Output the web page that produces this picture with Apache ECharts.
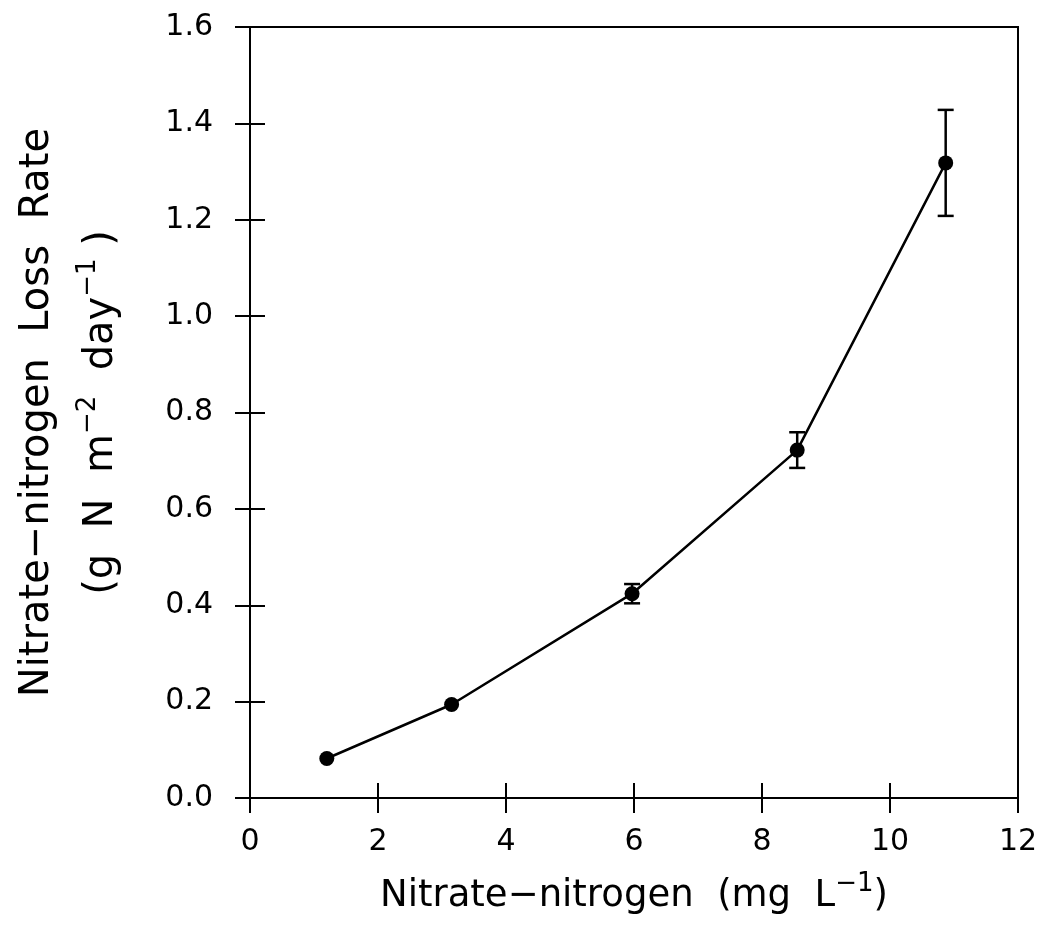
<!DOCTYPE html>
<html>
<head>
<meta charset="utf-8">
<script src="https://cdn.jsdelivr.net/npm/echarts@6/dist/echarts.min.js"></script>
<style>
html,body{margin:0;padding:0;background:#fff;}
#chart{width:1042px;height:926px;}
</style>
</head>
<body>
<div id="chart"></div>
<script>
const xValues = [1.2, 3.15, 5.97, 8.55, 10.87];
const yValues = [0.082, 0.194, 0.424, 0.722, 1.318];
const yErrors = [0, 0, 0.02, 0.037, 0.11];
const xTicks = [0, 2, 4, 6, 8, 10, 12];
const yTicks = [0.0, 0.2, 0.4, 0.6, 0.8, 1.0, 1.2, 1.4, 1.6];

const FONT = 'DejaVu Sans';
const chart = echarts.init(document.getElementById('chart'));

const points = xValues.map((x, i) => [x, yValues[i]]);
const errData = xValues.map((x, i) => [x, yValues[i] - yErrors[i], yValues[i] + yErrors[i]]);

const axisBase = {
  type: 'value',
  splitLine: {show: false},
};

chart.setOption({
  animation: false,
  backgroundColor: '#fff',
  grid: {left: 250, right: 24, top: 27, bottom: 128, containLabel: false, outerBoundsMode: 'none',
    show: true, borderColor: '#000', borderWidth: 2, backgroundColor: 'transparent'},
  xAxis: [
    Object.assign({}, axisBase, {
      min: 0, max: 12, interval: 2, position: 'bottom',
      axisLine: {show: true, onZero: false, lineStyle: {color: '#000', width: 2}},
      axisTick: {show: true, inside: false, length: 15, lineStyle: {color: '#000', width: 2}},
      axisLabel: {show: true, color: '#000', fontFamily: FONT, fontSize: 30, margin: 29,
        formatter: v => xTicks.includes(v) ? String(v) : ''},
      name: 'Nitrate\u2212nitrogen  (mg  L{sup|\u22121})',
      nameLocation: 'middle', nameGap: 73,
      nameTextStyle: {color: '#000', fontFamily: FONT, fontSize: 37,
        rich: {sup: {fontSize: 26, padding: [0, 0, 24, 0], color: '#000', fontFamily: FONT}}}
    }),
    Object.assign({}, axisBase, {
      min: 0, max: 12, interval: 2, position: 'bottom',
      axisLine: {show: false},
      axisTick: {show: true, inside: true, length: 15, lineStyle: {color: '#000', width: 2}},
      axisLabel: {show: false}
    })
  ],
  yAxis: [
    Object.assign({}, axisBase, {
      min: 0, max: 1.6, interval: 0.2, position: 'left',
      axisLine: {show: true, onZero: false, lineStyle: {color: '#000', width: 2}},
      axisTick: {show: true, inside: false, length: 15, lineStyle: {color: '#000', width: 2}},
      axisLabel: {show: true, color: '#000', fontFamily: FONT, fontSize: 30, margin: 37,
        formatter: v => v.toFixed(1)},
      name: 'Nitrate\u2212nitrogen  Loss  Rate\n(g  N  m{sup|\u22122}  day{sup|\u22121} )',
      nameLocation: 'middle', nameRotate: 90, nameGap: 116,
      nameTextStyle: {color: '#000', fontFamily: FONT, fontSize: 40, lineHeight: 64,
        rich: {sup: {fontSize: 26, lineHeight: 64, padding: [0, 0, 28, 0], color: '#000', fontFamily: FONT}}}
    }),
    Object.assign({}, axisBase, {
      min: 0, max: 1.6, interval: 0.2, position: 'left',
      axisLine: {show: false},
      axisTick: {show: true, inside: true, length: 15, lineStyle: {color: '#000', width: 2}},
      axisLabel: {show: false}
    })
  ],
  series: [
    {
      type: 'custom',
      xAxisIndex: 0, yAxisIndex: 0,
      data: errData,
      z: 3,
      renderItem: function (params, api) {
        const x = api.value(0);
        const lo = api.coord([x, api.value(1)]);
        const hi = api.coord([x, api.value(2)]);
        const half = 8;
        const style = {stroke: '#000', lineWidth: 2.5};
        if (Math.abs(hi[1] - lo[1]) < 1) return null;
        return {
          type: 'group',
          children: [
            {type: 'line', shape: {x1: lo[0], y1: lo[1], x2: hi[0], y2: hi[1]}, style: style},
            {type: 'line', shape: {x1: lo[0] - half, y1: lo[1], x2: lo[0] + half, y2: lo[1]}, style: style},
            {type: 'line', shape: {x1: hi[0] - half, y1: hi[1], x2: hi[0] + half, y2: hi[1]}, style: style}
          ]
        };
      }
    },
    {
      type: 'line',
      xAxisIndex: 0, yAxisIndex: 0,
      data: points,
      symbol: 'circle', symbolSize: 15,
      lineStyle: {color: '#000', width: 2.5},
      itemStyle: {color: '#000'},
      z: 4
    }
  ]
});
</script>
</body>
</html>
